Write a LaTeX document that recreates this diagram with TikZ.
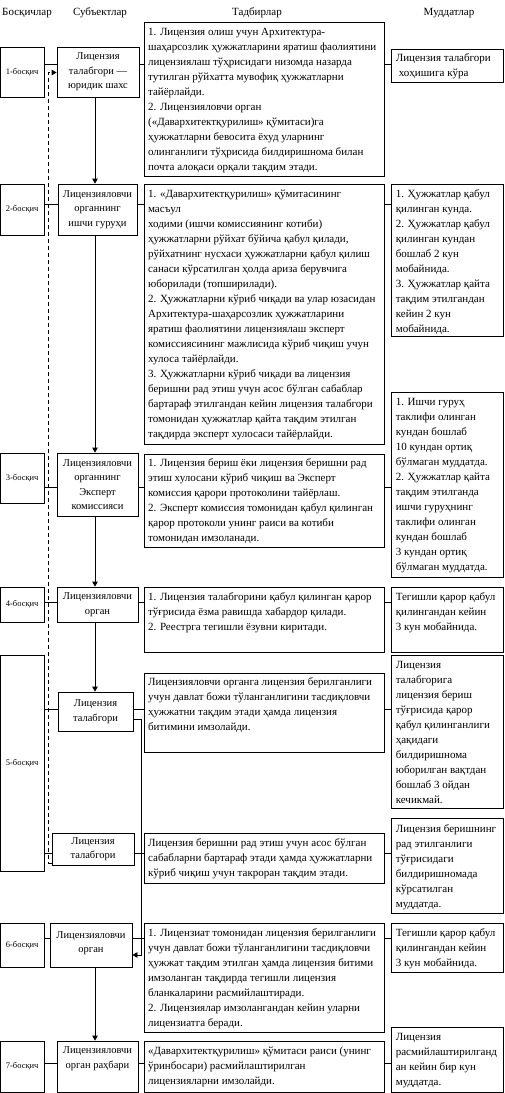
\documentclass[tikz,border=0pt]{standalone}
\usepackage{fontspec}
\setmainfont{Liberation Serif}
\usetikzlibrary{arrows.meta,fit}
\begin{document}
\begin{tikzpicture}[x=1pt,y=-1pt,
  frm/.style={draw, line width=0.8pt, inner sep=0pt},
  txt/.style={inner sep=0pt, anchor=north west, align=left, font=\fontsize{11}{15}\selectfont},
  sbt/.style={inner sep=0pt, align=center, font=\fontsize{10.5}{14.5}\selectfont},
  stp/.style={inner sep=0pt, font=\fontsize{8.5}{10}\selectfont},
  hdr/.style={inner sep=0pt, font=\fontsize{11}{13}\selectfont},
  ln/.style={line width=0.8pt},
  arr/.style={line width=0.8pt, -{Triangle[length=5pt,width=5.5pt]}},
  dsh/.style={dash pattern=on 4pt off 3pt}]
\useasboundingbox (0,0) rectangle (505,1093);

% headers
\node[hdr] (h1) at (27,13) {Босқичлар};
\node[hdr] (h2) at (100,13) {Субъектлар};
\node[hdr] (h3) at (257,13) {Тадбирлар};
\node[hdr] (h4) at (449,13) {Муддатлар};

% ---------- row 1
\node[frm, fit={(0.4,47) (44,97)}] (st1) {};
\node[stp] (st1t) at (st1.center) {1-босқич};
\node[frm, fit={(57,47) (139,97)}] (s1) {};
\node[sbt] (s1t) at (s1.center) {Лицензия\\талабгори —\\юридик шахс};
\node[frm, fit={(144,22) (384,176)}] (a1) {};
\node[txt] (a1t) at ([xshift=4.3pt]a1.north west) {\rule{0pt}{14pt}1. Лицензия олиш учун Архитектура-\\шаҳарсозлик ҳужжатларини яратиш фаолиятини\\лицензиялаш тўҳрисидаги низомда назарда\\тутилган рўйхатта мувофиқ ҳужжатларни\\тайёрлайди.\\2. Лицензияловчи орган\\(«Давархитектқурилиш» қўмитаси)га\\ҳужжатларни бевосита ёхуд уларнинг\\олинганлиги тўҳрисида билдиришнома билан\\почта алоқаси орқали тақдим этади.};
\node[frm, fit={(391,49) (503,82)}] (t1) {};
\node[txt] (t1t) at ([xshift=5pt]t1.north west) {\rule{0pt}{12.5pt}Лицензия талабгори\\\hspace{3pt}хоҳишига кўра};

% ---------- row 2
\node[frm, fit={(0.4,184) (44,235)}] (st2) {};
\node[stp] (st2t) at (st2.center) {2-босқич};
\node[frm, fit={(58,184) (137,235)}] (s2) {};
\node[sbt] (s2t) at (s2.center) {Лицензияловчи\\органнинг\\ишчи гуруҳи};
\node[frm, fit={(144,184) (384,444)}] (a2) {};
\node[txt] (a2t) at ([xshift=4.3pt]a2.north west) {\rule{0pt}{14pt}1. «Давархитектқурилиш» қўмитасининг\\масъул\\ходими (ишчи комиссиянинг котиби)\\ҳужжатларни рўйхат бўйича қабул қилади,\\рўйхатнинг нусхаси ҳужжатларни қабул қилиш\\санаси кўрсатилган ҳолда ариза берувчига\\юборилади (топширилади).\\2. Ҳужжатларни кўриб чиқади ва улар юзасидан\\Архитектура-шаҳарсозлик ҳужжатларини\\яратиш фаолиятини лицензиялаш эксперт\\комиссиясининг мажлисида кўриб чиқиш учун\\хулоса тайёрлайди.\\3. Ҳужжатларни кўриб чиқади ва лицензия\\беришни рад этиш учун асос бўлган сабаблар\\бартараф этилгандан кейин лицензия талабгори\\томонидан ҳужжатлар қайта тақдим этилган\\тақдирда эксперт хулосаси тайёрлайди.};
\node[frm, fit={(391,184) (503,336)}] (t2) {};
\node[txt] (t2t) at ([xshift=5pt]t2.north west) {\rule{0pt}{14pt}1. Ҳужжатлар қабул\\қилинган кунда.\\2. Ҳужжатлар қабул\\қилинган кундан\\бошлаб 2 кун\\мобайнида.\\3. Ҳужжатлар қайта\\тақдим этилгандан\\кейин 2 кун\\мобайнида.};

% ---------- row 3
\node[frm, fit={(0.4,453) (44,503)}] (st3) {};
\node[stp] (st3t) at (st3.center) {3-босқич};
\node[frm, fit={(57,453) (138,516)}] (s3) {};
\node[sbt] (s3t) at (s3.center) {Лицензияловчи\\органнинг\\Эксперт\\комиссияси};
\node[frm, fit={(144,454) (384,547)}] (a3) {};
\node[txt] (a3t) at ([xshift=4.3pt]a3.north west) {\rule{0pt}{13pt}1. Лицензия бериш ёки лицензия беришни рад\\этиш хулосани кўриб чиқиш ва Эксперт\\комиссия қарори протоколини тайёрлаш.\\2. Эксперт комиссия томонидан қабул қилинган\\қарор протоколи унинг раиси ва котиби\\томонидан имзоланади.};
\node[frm, fit={(391,392) (503,577)}] (t3) {};
\node[txt] (t3t) at ([xshift=5pt]t3.north west) {\rule{0pt}{14pt}1. Ишчи гуруҳ\\таклифи олинган\\кундан бошлаб\\10 кундан ортиқ\\бўлмаган муддатда.\\2. Ҳужжатлар қайта\\тақдим этилганда\\ишчи гуруҳнинг\\таклифи олинган\\кундан бошлаб\\3 кундан ортиқ\\бўлмаган муддатда.};

% ---------- row 4
\node[frm, fit={(0.4,587) (44,622)}] (st4) {};
\node[stp] (st4t) at (st4.center) {4-босқич};
\node[frm, fit={(57,587) (138,622)}] (s4) {};
\node[sbt] (s4t) at (s4.center) {Лицензияловчи\\орган};
\node[frm, fit={(144,587) (384,652)}] (a4) {};
\node[txt] (a4t) at ([xshift=4.3pt]a4.north west) {\rule{0pt}{14pt}1. Лицензия талабгорини қабул қилинган қарор\\тўғрисида ёзма равишда хабардор қилади.\\2. Реестрга тегишли ёзувни киритади.};
\node[frm, fit={(391,587) (503,652)}] (t4) {};
\node[txt] (t4t) at ([xshift=5pt]t4.north west) {\rule{0pt}{14pt}Тегишли қарор қабул\\қилингандан кейин\\3 кун мобайнида.};

% ---------- row 5
\node[frm, fit={(0.4,655) (44,871)}] (st5) {};
\node[stp] (st5t) at (st5.center) {5-босқич};
\node[frm, fit={(58,692) (133,731)}] (s5a) {};
\node[sbt] (s5at) at (s5a.center) {Лицензия\\талабгори};
\node[frm, fit={(144,673) (384,752)}] (a5a) {};
\node[txt] (a5at) at ([xshift=4.3pt]a5a.north west) {\rule{0pt}{13pt}Лицензияловчи органга лицензия берилганлиги\\учун давлат божи тўланганлигини тасдиқловчи\\ҳужжатни тақдим этади ҳамда лицензия\\битимини имзолайди.};
\node[frm, fit={(391,655) (503,808)}] (t5a) {};
\node[txt] (t5at) at ([xshift=5pt]t5a.north west) {\rule{0pt}{14pt}Лицензия\\талабгорига\\лицензия бериш\\тўғрисида қарор\\қабул қилинганлиги\\ҳақидаги\\билдиришнома\\юборилган вақтдан\\бошлаб 3 ойдан\\кечикмай.};

\node[frm, fit={(52,833) (134,865)}] (s5b) {};
\node[sbt] (s5bt) at (s5b.center) {Лицензия\\талабгори};
\node[frm, fit={(144,833) (384,883)}] (a5b) {};
\node[txt] (a5bt) at ([xshift=4.3pt]a5b.north west) {\rule{0pt}{14pt}Лицензия беришни рад этиш учун асос бўлган\\сабабларни бартараф этади ҳамда ҳужжатларни\\кўриб чиқиш учун такроран тақдим этади.};
\node[frm, fit={(391,818) (503,913)}] (t5b) {};
\node[txt] (t5bt) at ([xshift=5pt]t5b.north west) {\rule{0pt}{14.5pt}Лицензия беришнинг\\рад этилганлиги\\тўғрисидаги\\билдиришномада\\кўрсатилган\\муддатда.};

% ---------- row 6
\node[frm, fit={(0.4,923) (44,967)}] (st6) {};
\node[stp] (st6t) at (st6.center) {6-босқич};
\node[frm, fit={(50,923) (132,967)}] (s6) {};
\node[sbt] (s6t) at ([yshift=2pt]s6.center) {Лицензияловчи\\орган};
\node[frm, fit={(144,923) (384,1032)}] (a6) {};
\node[txt] (a6t) at ([xshift=4.3pt]a6.north west) {\rule{0pt}{14pt}1. Лицензиат томонидан лицензия берилганлиги\\учун давлат божи тўланганлигини тасдиқловчи\\ҳужжат тақдим этилган ҳамда лицензия битими\\имзоланган тақдирда тегишли лицензия\\бланкаларини расмийлаштиради.\\2. Лицензиялар имзолангандан кейин уларни\\лицензиатга беради.};
\node[frm, fit={(391,923) (503,972)}] (t6) {};
\node[txt] (t6t) at ([xshift=5pt]t6.north west) {\rule{0pt}{14pt}Тегишли қарор қабул\\қилингандан кейин\\3 кун мобайнида.};

% ---------- row 7
\node[frm, fit={(0.4,1041) (44,1092)}] (st7) {};
\node[stp] (st7t) at (st7.center) {7-босқич};
\node[frm, fit={(57,1041) (138,1092)}] (s7) {};
\node[sbt] (s7t) at ([yshift=8pt]s7.center) {Лицензияловчи\\орган раҳбари};
\node[frm, fit={(144,1041) (384,1092)}] (a7) {};
\node[txt] (a7t) at ([xshift=4.3pt]a7.north west) {\rule{0pt}{13.5pt}«Давархитектқурилиш» қўмитаси раиси (унинг\\ўринбосари) расмийлаштирилган\\лицензияларни имзолайди.};
\node[frm, fit={(391,1027) (503,1092)}] (t7) {};
\node[txt] (t7t) at ([xshift=5pt]t7.north west) {\rule{0pt}{13.5pt}Лицензия\\расмийлаштирилганд\\ан кейин бир кун\\муддатда.};

% ---------- horizontal connectors
\coordinate (r1) at (0,64);
\coordinate (r2) at (0,204);
\coordinate (r3) at (0,487);
\coordinate (r4) at (0,602);
\coordinate (r5) at (0,709);
\coordinate (r5b) at (0,853);
\coordinate (r6) at (0,938);
\coordinate (r7) at (0,1063);
\foreach \r/\st/\s/\a/\t in {r1/st1/s1/a1/t1, r2/st2/s2/a2/t2, r3/st3/s3/a3/t3, r4/st4/s4/a4/t4, r5/st5/s5a/a5a/t5a, r5b/st5/s5b/a5b/t5b, r6/st6/s6/a6/t6, r7/st7/s7/a7/t7}{
  \draw[ln] (\st.east |- \r) -- (\s.west |- \r);
  \draw[ln] (\s.east |- \r) -- (\a.west |- \r);
  \draw[ln] (\a.east |- \r) -- (\t.west |- \r);
}

% ---------- vertical arrows
\coordinate (vx) at (95,0);
\draw[arr] (s1.south -| vx) -- (s2.north -| vx);
\draw[arr] (s2.south -| vx) -- (s3.north -| vx);
\draw[arr] (s3.south -| vx) -- (s4.north -| vx);
\draw[arr] (s4.south -| vx) -- (s5a.north -| vx);
\draw[arr] (s6.south -| vx) -- (s7.north -| vx);

% 5a -> 6
\coordinate (c1) at (141,719);
\coordinate (c2) at (141,955);
\draw[arr] (s5a.east |- c1) -- (c1) -- (c2) -- (s6.east |- c2);

% dashed return 5b -> 1
\coordinate (d1) at (48.5,863);
\coordinate (d2) at (48.5,72.5);
\draw[arr, dsh] (s5b.west |- d1) -- (d1) -- (d2) -- (s1.west |- d2);
\end{tikzpicture}
\end{document}
